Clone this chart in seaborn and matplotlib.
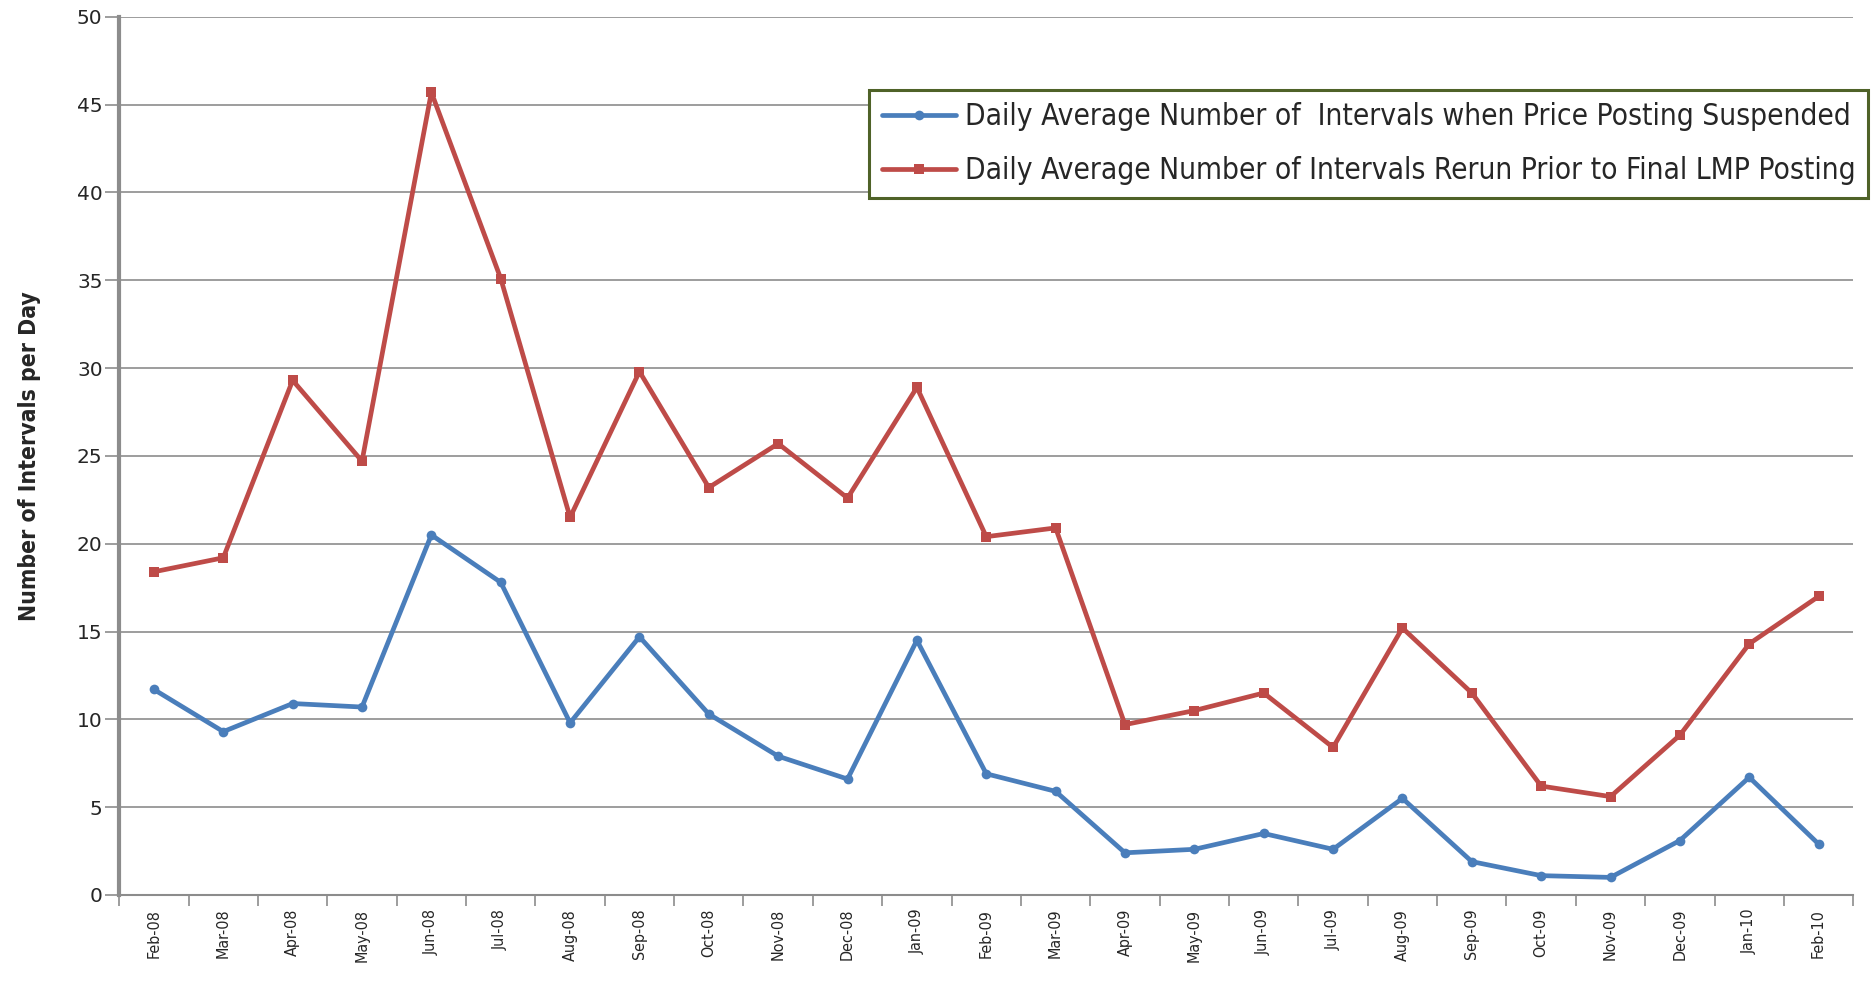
import numpy as np
import pandas as pd
import matplotlib
matplotlib.use('Agg')
import matplotlib.pyplot as plt
import seaborn as sns

# 월별 라벨
months = ['Feb-08', 'Mar-08', 'Apr-08', 'May-08', 'Jun-08', 'Jul-08', 'Aug-08',
          'Sep-08', 'Oct-08', 'Nov-08', 'Dec-08', 'Jan-09', 'Feb-09', 'Mar-09',
          'Apr-09', 'May-09', 'Jun-09', 'Jul-09', 'Aug-09', 'Sep-09', 'Oct-09',
          'Nov-09', 'Dec-09', 'Jan-10', 'Feb-10']

# 가격 게시 중단 구간 (파랑)
suspended = [11.7, 9.3, 10.9, 10.7, 20.5, 17.8, 9.8, 14.7, 10.3, 7.9, 6.6, 14.5,
             6.9, 5.9, 2.4, 2.6, 3.5, 2.6, 5.5, 1.9, 1.1, 1.0, 3.1, 6.7, 2.9]
# 재실행 구간 (빨강)
rerun = [18.4, 19.2, 29.3, 24.7, 45.7, 35.1, 21.5, 29.8, 23.2, 25.7, 22.6, 28.9,
         20.4, 20.9, 9.7, 10.5, 11.5, 8.4, 15.2, 11.5, 6.2, 5.6, 9.1, 14.3, 17.0]

name_blue = 'Daily Average Number of  Intervals when Price Posting Suspended'
name_red = 'Daily Average Number of Intervals Rerun Prior to Final LMP Posting'

df = pd.DataFrame({
    'month': months * 2,
    'value': suspended + rerun,
    'series': [name_blue] * len(months) + [name_red] * len(months),
})

sns.set_style('white')
plt.rcParams['font.family'] = ['DejaVu Sans']

fig = plt.figure(figsize=(18.72, 9.9), dpi=100)
ax = fig.add_axes([0.0637, 0.096, 0.9263, 0.887])

ax.yaxis.grid(True, color='#8c8c8c', linewidth=1.2)
ax.set_axisbelow(True)

sns.lineplot(data=df, x='month', y='value', hue='series', style='series',
             palette={name_blue: '#4A7EBB', name_red: '#BE4B48'},
             markers={name_blue: 'o', name_red: 's'}, dashes=False,
             markersize=7, linewidth=3.4, markeredgewidth=0, sort=False, ax=ax)

ax.set_xlim(-0.5, len(months) - 0.5)
ax.set_ylim(0, 50)
ax.set_yticks(range(0, 51, 5))
ax.set_xlabel('')
ax.set_ylabel('Number of Intervals per Day', fontsize=16.5, fontweight='bold',
              fontstretch='condensed', labelpad=26)

# 축 스타일
for s in ['top', 'right']:
    ax.spines[s].set_visible(False)
ax.spines['left'].set_color('#8c8c8c')
ax.spines['left'].set_linewidth(3)
ax.spines['bottom'].set_color('#8c8c8c')
ax.spines['bottom'].set_linewidth(1.5)

ax.tick_params(axis='y', which='major', left=True, length=10, width=1.2,
               color='#8c8c8c', labelsize=14.5, pad=2)
ax.set_xticks(range(len(months)))
ax.set_xticklabels(months, rotation=90, fontsize=11.5, fontstretch='condensed')
ax.tick_params(axis='x', which='major', length=0, pad=10)
ax.set_xticks(np.arange(-0.5, len(months)), minor=True)
ax.tick_params(axis='x', which='minor', bottom=True, length=8, width=1.2,
               color='#8c8c8c')

leg = ax.legend(loc='upper right', bbox_to_anchor=(1.0086, 0.917), borderaxespad=0,
                fancybox=False, frameon=True, handlelength=2.5, handletextpad=0.3,
                labelspacing=0.85, borderpad=0.42,
                prop={'family': 'DejaVu Sans', 'stretch': 'condensed', 'size': 21.4})
leg.get_frame().set_edgecolor('#4F6228')
leg.get_frame().set_linewidth(2.2)
leg.get_frame().set_alpha(1)

plt.savefig('out.png', dpi=100)
